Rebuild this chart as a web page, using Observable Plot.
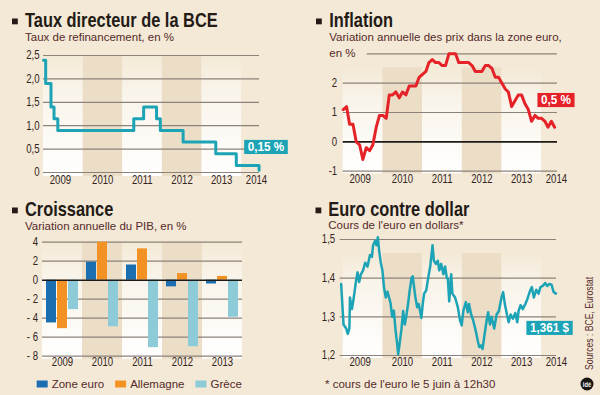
<!DOCTYPE html>
<html><head><meta charset="utf-8">
<script src="https://cdn.jsdelivr.net/npm/d3@7"></script>
<script src="https://cdn.jsdelivr.net/npm/@observablehq/plot@0.6"></script>
<style>
html,body{margin:0;padding:0;background:#f3e9d6;}
#root{position:relative;width:600px;height:395px;background:#f3e9d6;overflow:hidden;}
.panel{position:absolute;}
.panel svg{overflow:visible;display:block;}
.wband rect{fill:url(#wgrad);}
#overlay{position:absolute;left:0;top:0;pointer-events:none;}
</style></head>
<body>
<div id="root">
<svg width="0" height="0" style="position:absolute">
  <defs>
    <linearGradient id="wgrad" x1="0" y1="0" x2="0" y2="1">
      <stop offset="0" stop-color="#f3e9d6"/>
      <stop offset="0.3" stop-color="#f9f4ea"/>
      <stop offset="1" stop-color="#ffffff"/>
    </linearGradient>
  </defs>
</svg>
</div>
<script>
// ---------- DATA ----------
const years = [2009, 2010, 2011, 2012, 2013];
const yearLabels = ["2009", "2010", "2011", "2012", "2013", "2014"];
const yearLabelDates = ["2009-06-06", "2010-07-01", "2011-07-01", "2012-07-01", "2013-07-01", "2014-05-18"];

// Taux directeur BCE (as drawn)
const bceDates = ["2009-01-01","2009-01-21","2009-03-11","2009-04-08","2009-05-13","2011-04-13","2011-07-13","2011-11-09","2011-12-14","2012-07-11","2013-05-08","2013-11-13","2014-06-11"];
const bceRates = [2.4, 1.9, 1.4, 1.15, 0.9, 1.15, 1.4, 1.15, 0.9, 0.65, 0.4, 0.15, 0.05];
const bceTicks = [0, 0.5, 1, 1.5, 2, 2.5];
const bceTickLabels = ["0", "0,5", "1,0", "1,5", "2,0", "2,5"];
const bceLabel = "0,15 %";

// Inflation zone euro, monthly from Jan 2009 to May 2014
const inflationStart = "2009-01-01";
const inflation = [
  1.1, 1.2, 0.6, 0.6, 0.0, -0.1, -0.6, -0.2, -0.3, -0.1, 0.5, 0.9,
  0.9, 0.8, 1.6, 1.6, 1.7, 1.5, 1.7, 1.6, 1.9, 1.9, 1.9, 2.2,
  2.3, 2.4, 2.7, 2.8, 2.7, 2.7, 2.6, 2.6, 3.0, 3.0, 3.0, 2.7,
  2.7, 2.7, 2.7, 2.6, 2.4, 2.4, 2.4, 2.6, 2.6, 2.5, 2.2, 2.2,
  2.0, 1.8, 1.7, 1.2, 1.4, 1.6, 1.6, 1.3, 1.1, 0.7, 0.9, 0.8,
  0.8, 0.7, 0.5, 0.7, 0.5
];
const inflTicks = [-1, 0, 1, 2];
const inflTickLabels = ["-1", "0", "1", "2"];
const inflGrid = [-1, 1, 2];
const inflTop = 3;
const inflLabel = "0,5 %";

// Croissance (PIB, %)
const growthSeries = ["Zone euro", "Allemagne", "Grèce"];
const growthColors = ["#1b6fb0", "#f39224", "#8dcbd8"];
const growthZoneEuro = [-4.5, 1.9, 1.6, -0.7, -0.4];
const growthAllemagne = [-5.1, 4.0, 3.3, 0.7, 0.4];
const growthGrece = [-3.1, -4.9, -7.1, -7.0, -3.9];
const growthTicks = [-8, -6, -4, -2, 0, 2, 4];
const growthTickLabels = ["- 8", "- 6", "- 4", "- 2", "0", "2", "4"];

// Euro contre dollar
const euroDates = ["2008-12-13","2009-01-04","2009-01-28","2009-02-12","2009-02-27","2009-03-04","2009-03-22","2009-04-03","2009-04-28","2009-05-13","2009-05-28","2009-06-13","2009-07-03","2009-07-22","2009-08-13","2009-09-04","2009-09-22","2009-10-03","2009-10-22","2009-11-04","2009-11-16","2009-11-28","2009-12-13","2009-12-28",
"2010-01-12","2010-01-28","2010-02-13","2010-02-27","2010-03-13","2010-03-28","2010-04-12","2010-04-28","2010-05-13","2010-05-22","2010-06-04","2010-06-22","2010-07-07","2010-07-22","2010-08-04","2010-08-22","2010-09-06","2010-09-22","2010-10-03","2010-10-16","2010-10-28","2010-11-13","2010-11-27","2010-12-13","2010-12-22",
"2011-01-03","2011-01-16","2011-02-04","2011-02-22","2011-03-13","2011-04-03","2011-04-16","2011-05-04","2011-05-22","2011-06-04","2011-06-22","2011-07-12","2011-07-28","2011-08-13","2011-08-22","2011-09-04","2011-09-22","2011-10-03","2011-10-28","2011-11-22","2011-12-13","2011-12-28",
"2012-01-12","2012-02-04","2012-02-22","2012-03-04","2012-03-22","2012-04-12","2012-05-04","2012-05-22","2012-06-06","2012-06-22","2012-07-07","2012-07-22","2012-08-13","2012-08-27","2012-09-13","2012-09-28","2012-10-22","2012-11-13","2012-12-04","2012-12-28",
"2013-01-12","2013-01-28","2013-02-16","2013-03-04","2013-03-22","2013-04-12","2013-05-04","2013-05-22","2013-06-04","2013-06-22","2013-07-12","2013-08-04","2013-08-22","2013-09-13","2013-10-03","2013-10-22","2013-11-13","2013-12-04","2013-12-22",
"2014-01-12","2014-02-04","2014-02-22","2014-03-13","2014-04-03","2014-04-22","2014-05-13"];
const euroValues = [1.385,1.28,1.27,1.256,1.27,1.35,1.32,1.34,1.39,1.415,1.39,1.41,1.42,1.44,1.43,1.46,1.455,1.485,1.497,1.485,1.506,1.47,1.44,1.42,
1.375,1.35,1.365,1.35,1.335,1.30,1.316,1.265,1.23,1.203,1.23,1.27,1.315,1.28,1.30,1.335,1.37,1.40,1.405,1.375,1.35,1.325,1.333,1.31,1.297,
1.333,1.36,1.368,1.40,1.43,1.485,1.445,1.437,1.445,1.42,1.437,1.41,1.43,1.40,1.40,1.34,1.41,1.36,1.35,1.325,1.29,1.278,
1.316,1.338,1.312,1.333,1.308,1.29,1.265,1.24,1.222,1.226,1.217,1.248,1.29,1.312,1.28,1.30,1.27,1.306,1.315,1.35,
1.364,1.333,1.306,1.286,1.306,1.295,1.31,1.286,1.316,1.33,1.32,1.333,1.345,1.364,1.377,1.35,1.37,1.36,1.377,
1.38,1.387,1.38,1.385,1.383,1.364,1.36];
const euroTicks = [1.2, 1.3, 1.4, 1.5];
const euroTickLabels = ["1,2", "1,3", "1,4", "1,5"];
const euroLabel = "1,361 $";

// ---------- STYLE ----------
const BG = "#f3e9d6", TAN = "#ebddc6", GRID = "#8c8279", TEAL = "#1ca4b6", RED = "#e42228";
const TXT = "#241a16", SUB = "#55292a", TICK = "#33241f";
const SANS = "'Liberation Sans', Arial, sans-serif";
const SQUEEZE = 0.8;     // horizontal condensing of the tick text
const SQUEEZE_BOX = 0.9; // horizontal condensing of the boxed labels

const utc = s => new Date(s + "T00:00:00Z");
const yearStart = y => new Date(Date.UTC(y, 0, 1));
const X_DOMAIN = [utc("2009-01-01"), utc("2014-06-15")];
const whiteYears = years.filter((d, i) => i % 2 === 0);
const tanYears = years.filter((d, i) => i % 2 === 1);
const yearTicks = yearLabels.map((t, i) => ({text: t, date: utc(yearLabelDates[i]), bold: t === "2014"}));

const baseStyle = {background: "transparent", overflow: "visible", fontFamily: SANS};

function bands(opts) {
  return [
    Plot.rect(tanYears, {x1: d => yearStart(d), x2: d => yearStart(d + 1), fill: TAN, ...opts}),
    Plot.rect(whiteYears, {x1: d => yearStart(d), x2: d => yearStart(d + 1), fill: "#fffdf8", className: "wband", ...opts})
  ];
}
function yearAxis(dy) {
  return Plot.text(yearTicks, {x: "date", text: "text", frameAnchor: "bottom", dy, fontSize: 12,
    fontFamily: SANS, fill: TICK, fontWeight: d => d.bold ? "bold" : "normal", className: "narrow"});
}
function yTicks(ticks, labels, dx) {
  return Plot.text(ticks, {y: d => d, text: (d, i) => labels[i], frameAnchor: "left", textAnchor: "end",
    dx, fontSize: 12, fontFamily: SANS, fill: TICK, className: "narrow"});
}
function boxLabel(text, opts) {
  return Plot.text([text], {text: d => d, textAnchor: "middle", fill: "white", fontWeight: "bold",
    fontSize: 13, fontFamily: SANS, className: "boxlabel", ...opts});
}

const root = document.getElementById("root");
// condense a text horizontally around its anchor (numeric x attribute moved into the transform)
function squeeze(t, k) {
  const xa = t.getAttribute("x");
  const numeric = xa !== null && /^-?[\d.]+$/.test(xa);
  const xn = numeric ? +xa : 0;
  if (numeric) t.setAttribute("x", 0);
  const tr = t.getAttribute("transform") || "";
  t.setAttribute("transform", `${tr} translate(${xn},0) scale(${k},1)`);
}
function place(svg, left, top, boxColor) {
  const div = document.createElement("div");
  div.className = "panel";
  div.style.left = left + "px";
  div.style.top = top + "px";
  div.appendChild(svg);
  root.appendChild(div);
  svg.querySelectorAll("g.narrow text").forEach(t => squeeze(t, SQUEEZE));
  svg.querySelectorAll("g.boxlabel text").forEach(t => squeeze(t, SQUEEZE_BOX));
  svg.querySelectorAll("g.boxlabel text").forEach(t => {
    const bb = t.getBBox();
    const r = document.createElementNS("http://www.w3.org/2000/svg", "rect");
    r.setAttribute("x", bb.x - 4);
    r.setAttribute("y", bb.y + 0.2);
    r.setAttribute("width", bb.width + 8);
    r.setAttribute("height", bb.height - 0.6);
    r.setAttribute("fill", boxColor);
    r.setAttribute("transform", t.getAttribute("transform"));
    t.parentNode.insertBefore(r, t);
  });
}

// ---------- PANEL 1 : BCE ----------
const bceData = bceDates.map((d, i) => ({date: utc(d), rate: bceRates[i]}));
const p1 = Plot.plot({
  width: 300, height: 155, marginTop: 15, marginBottom: 23, marginLeft: 43, marginRight: 41,
  x: {type: "utc", domain: X_DOMAIN, axis: null},
  y: {domain: [0, 2.5], axis: null},
  style: baseStyle,
  marks: [
    ...bands({insetBottom: -4}),
    Plot.ruleY(bceTicks, {stroke: GRID, strokeWidth: 1.2}),
    Plot.line(bceData, {x: "date", y: "rate", curve: "step-after", stroke: TEAL, strokeWidth: 3}),
    yTicks(bceTicks, bceTickLabels, -4),
    yearAxis(11),
    boxLabel(bceLabel, {y: 0.5, frameAnchor: "right", dx: 6.5, dy: -2})
  ]
});
place(p1, 0, 40, TEAL);

// ---------- PANEL 2 : Inflation ----------
const inflData = inflation.map((v, i) => ({date: d3.utcMonth.offset(utc(inflationStart), i), value: v}));
const p2 = Plot.plot({
  width: 300, height: 155, marginTop: 13.3, marginBottom: 24.3, marginLeft: 42.7, marginRight: 41,
  x: {type: "utc", domain: X_DOMAIN, axis: null},
  y: {domain: [-1, 3], axis: null},
  style: baseStyle,
  marks: [
    ...bands({insetTop: 14, insetBottom: -2.5}),
    Plot.ruleY(inflGrid, {stroke: GRID, strokeWidth: 1.2, insetRight: 2}),
    Plot.ruleY([inflTop], {stroke: GRID, strokeWidth: 1.2, insetLeft: 24, insetRight: 2}),
    Plot.ruleY([0], {stroke: "#1e1a18", strokeWidth: 1.6, insetRight: 2}),
    Plot.line(inflData, {x: "date", y: "value", stroke: RED, strokeWidth: 3, strokeLinejoin: "round"}),
    yTicks(inflTicks, inflTickLabels, -6),
    yearAxis(12),
    boxLabel(inflLabel, {y: 1.42, frameAnchor: "right", dx: -3.5})
  ]
});
place(p2, 300, 40, RED);

// ---------- PANEL 3 : Croissance ----------
const growthBySeries = [growthZoneEuro, growthAllemagne, growthGrece];
const growthData = [];
years.forEach((y, i) => growthSeries.forEach((s, j) => growthData.push({year: y, series: s, value: growthBySeries[j][i]})));
const p3 = Plot.plot({
  width: 300, height: 150, marginTop: 16.7, marginBottom: 19.3, marginLeft: 42, marginRight: 58,
  fx: {domain: years, padding: 0, axis: null},
  x: {domain: growthSeries, paddingInner: 0.09, paddingOuter: 0.36, axis: null},
  y: {domain: [-8, 4], axis: null},
  color: {domain: growthSeries, range: growthColors},
  style: baseStyle,
  marks: [
    Plot.rect(tanYears, {fx: d => d, fill: TAN, insetBottom: -3}),
    Plot.rect(whiteYears, {fx: d => d, fill: "#fffdf8", className: "wband", insetBottom: -3}),
    Plot.ruleY(growthTicks.filter(d => d !== 0), {stroke: GRID, strokeWidth: 1.2}),
    Plot.barY(growthData, {fx: "year", x: "series", y: "value", fill: "series"}),
    Plot.ruleY([0], {stroke: "#1e1a18", strokeWidth: 1.6}),
    Plot.text(growthTicks, {fx: () => years[0], y: d => d, text: (d, i) => growthTickLabels[i], frameAnchor: "left",
      textAnchor: "end", dx: -4.5, fontSize: 12, fontFamily: SANS, fill: TICK, className: "narrow"}),
    Plot.text(years, {fx: d => d, text: d => String(d), frameAnchor: "bottom", dy: 9.5, fontSize: 12,
      fontFamily: SANS, fill: TICK, className: "narrow"})
  ]
});
place(p3, 0, 225, null);

// ---------- PANEL 4 : Euro / dollar ----------
const euroData = euroDates.map((d, i) => ({date: utc(d), value: euroValues[i]}));
const p4 = Plot.plot({
  width: 300, height: 150, marginTop: 14, marginBottom: 20, marginLeft: 42.7, marginRight: 41,
  x: {type: "utc", domain: X_DOMAIN, axis: null},
  y: {domain: [1.2, 1.5], axis: null},
  style: baseStyle,
  marks: [
    ...bands({insetTop: 14, insetBottom: -3}),
    Plot.ruleY(euroTicks, {stroke: GRID, strokeWidth: 1.2, insetLeft: -3, insetRight: 3}),
    Plot.line(euroData, {x: "date", y: "value", stroke: TEAL, strokeWidth: 2.5, strokeLinejoin: "round"}),
    yTicks(euroTicks, euroTickLabels, -8),
    yearAxis(10.5),
    boxLabel(euroLabel, {y: 1.271, frameAnchor: "right", dx: -10})
  ]
});
place(p4, 300, 225, TEAL);

// ---------- OVERLAY : titles, subtitles, legend, notes ----------
const ov = d3.select(root).append("svg").attr("id", "overlay").attr("width", 600).attr("height", 395);
const titles = [
  {x: 25, y: 26.7, bx: 12, by: 18.5, t: "Taux directeur de la BCE"},
  {x: 329.3, y: 26.7, bx: 316, by: 18.5, t: "Inflation"},
  {x: 25, y: 215.7, bx: 12, by: 207.5, t: "Croissance"},
  {x: 328.3, y: 215.7, bx: 315.5, by: 207.5, t: "Euro contre dollar"}
];
titles.forEach(d => {
  ov.append("rect").attr("x", d.bx).attr("y", d.by).attr("width", 5.8).attr("height", 5.8).attr("fill", TXT);
  ov.append("text").attr("transform", `translate(${d.x},${d.y}) scale(0.82,1)`).text(d.t)
    .attr("font-family", SANS).attr("font-weight", "bold").attr("font-size", 20).attr("fill", TXT);
});
const subs = [
  {x: 25, y: 40.7, t: "Taux de refinancement, en %"},
  {x: 329.3, y: 40.7, t: "Variation annuelle des prix dans la zone euro,"},
  {x: 329.3, y: 56.7, t: "en %"},
  {x: 25, y: 230, t: "Variation annuelle du PIB, en %"},
  {x: 328.3, y: 229.3, t: "Cours de l'euro en dollars*"},
  {x: 325, y: 387.7, t: "* cours de l'euro le 5 juin à 12h30"}
];
subs.forEach(d => ov.append("text").attr("x", d.x).attr("y", d.y).text(d.t)
  .attr("font-family", SANS).attr("font-size", 11.5).attr("fill", SUB));

// legend
let lx = 36.7;
growthSeries.forEach((s, i) => {
  ov.append("rect").attr("x", lx).attr("y", 380.5).attr("width", 11).attr("height", 7).attr("fill", growthColors[i]);
  const t = ov.append("text").attr("x", lx + 15).attr("y", 387.5).text(s)
    .attr("font-family", SANS).attr("font-size", 11.5).attr("fill", SUB);
  lx = lx + 15 + t.node().getComputedTextLength() + 11;
});

// sources
ov.append("text").attr("transform", "translate(593,370) rotate(-90) scale(0.82,1)").text("Sources : BCE, Eurostat")
  .attr("font-family", SANS).attr("font-size", 10.5).attr("fill", SUB);
// logo
ov.append("circle").attr("cx", 587).attr("cy", 384).attr("r", 6.5).attr("fill", "#1c1714");
ov.append("text").attr("transform", "translate(587,386.5) scale(0.82,1)").attr("text-anchor", "middle").text("idé")
  .attr("font-family", SANS).attr("font-weight", "bold").attr("font-size", 7).attr("fill", "white");
</script>
</body></html>
